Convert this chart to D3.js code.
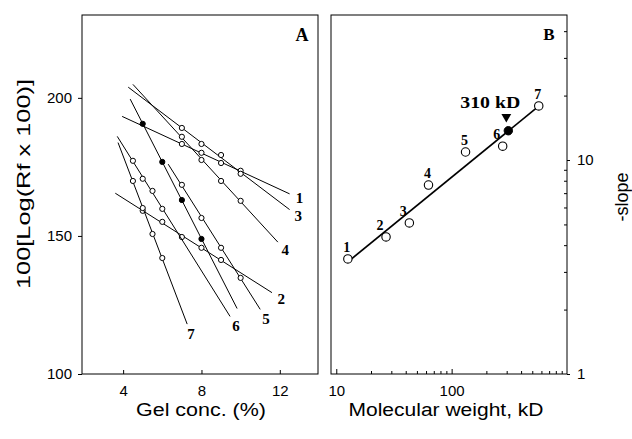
<!DOCTYPE html>
<html>
<head>
<meta charset="utf-8">
<script src="https://cdnjs.cloudflare.com/ajax/libs/d3/7.8.5/d3.min.js"></script>
<style>
    body { margin: 0; background: #fff; }
    text { font-family: "Liberation Sans", Arial, sans-serif; fill: #000; }
    .num { font-family: "Liberation Serif", "Times New Roman", serif; font-weight: bold; }
    .frame { fill: none; stroke: #000; stroke-width: 1; }
    .fit { fill: none; stroke: #000; }
</style>
</head>
<body>
<div id="chart"></div>
<script>
// panel A: one row per protein, gel concentration (%) and 100*log(Rf x 100)
var lineNames = ["1", "2", "3", "4", "5", "6", "7", ""];
var gelConc = [
    [7, 8, 9, 10],
    [5, 6, 7, 8, 9],
    [7, 8, 9, 10],
    [7, 8, 9, 10],
    [7, 8, 9, 10],
    [4.5, 5, 5.5, 6],
    [4.5, 5, 5.5, 6],
    [5, 6, 7, 8]
];
var logRf = [
    [183.3, 180.1, 176.4, 173.6],
    [159.1, 155.1, 149.6, 145.7, 141.3],
    [189.1, 183.3, 179.3, 172.5],
    [185.9, 177.5, 169.9, 162.7],
    [168.5, 156.5, 145.7, 134.8],
    [177.2, 170.7, 166.3, 159.8],
    [169.9, 160.1, 150.7, 142.0],
    [190.6, 176.8, 163.0, 148.9]
];
// gel range that each fitted line covers
var fitStart = [3.95, 3.6, 4.26, 4.5, 6.3, 3.7, 3.74, 4.36];
var fitEnd = [12.5, 11.6, 12.5, 11.9, 11.0, 9.46, 7.27, 9.82];
var isUnknown = [false, false, false, false, false, false, false, true];

// panel B: molecular weight (kD) against -slope
var mwNames = ["1", "2", "3", "4", "5", "6", "7"];
var molWeight = [12.6, 27, 43, 63, 132, 277, 569];
var negSlope = [3.45, 4.37, 5.08, 7.64, 10.9, 11.6, 17.9];
var unknownWeight = 310;
var unknownSlope = 13.7;
var unknownLabel = "310 kD";

var gelTicks = [4, 8, 12];
var rfTicks = [100, 150, 200];
var mwTicks = [10, 100];
var mwMinor = [20, 30, 40, 50, 60, 70, 80, 90, 200, 300, 400, 500, 600, 700, 800, 900];
var slopeTicks = [1, 10];
var slopeMinor = [2, 3, 4, 5, 6, 7, 8, 9, 20, 30, 40];

function init() {

    var w = 632;
    var h = 439;

    // least squares fit, returns [slope, intercept]
    function fit(xs, ys) {
        var mx = d3.mean(xs), my = d3.mean(ys);
        var sxy = 0, sxx = 0;
        for (var i = 0; i < xs.length; i++) {
            sxy += (xs[i] - mx) * (ys[i] - my);
            sxx += (xs[i] - mx) * (xs[i] - mx);
        }
        var b = sxy / sxx;
        return [b, my - b * mx];
    }

    var svg = d3.select("#chart")
                .append("svg")
                .attr("width", w)
                .attr("height", h);

    // ---------- panel A ----------
    var xA = d3.scaleLinear().domain([1.9, 13.95]).range([82, 318]);
    var yA = d3.scaleLinear().domain([100, 230]).range([374, 15]);

    svg.append("rect").attr("class", "frame")
        .attr("x", 82).attr("y", 15).attr("width", 236).attr("height", 359);

    var axA = svg.append("g")
        .attr("transform", "translate(0,374)")
        .call(d3.axisBottom(xA).tickValues(gelTicks).tickSize(-4).tickPadding(11));
    var ayA = svg.append("g")
        .attr("transform", "translate(82,0)")
        .call(d3.axisLeft(yA).tickValues(rfTicks).tickSize(4).tickPadding(6));

    lineNames.forEach(function(name, i) {
        var f = fit(gelConc[i], logRf[i]);
        var ends = [fitStart[i], fitEnd[i]].map(function(g) { return [g, f[0] * g + f[1]]; });

        svg.append("path")
            .datum(ends)
            .attr("class", "fit")
            .attr("stroke-width", 1)
            .attr("d", d3.line()
                .x(function(d) { return xA(d[0]); })
                .y(function(d) { return yA(d[1]); }));

        svg.selectAll(null)
            .data(gelConc[i].map(function(g, j) { return [g, logRf[i][j]]; }))
            .enter().append("circle")
            .attr("cx", function(d) { return xA(d[0]); })
            .attr("cy", function(d) { return yA(d[1]); })
            .attr("r", 2.6)
            .attr("fill", isUnknown[i] ? "#000" : "#fff")
            .attr("stroke", "#000")
            .attr("stroke-width", 1);

        if (name) {
            // label just past the end of the line, along its direction
            var x1 = xA(ends[1][0]), y1 = yA(ends[1][1]);
            var x0 = xA(ends[0][0]), y0 = yA(ends[0][1]);
            var len = Math.hypot(x1 - x0, y1 - y0);
            svg.append("text")
                .attr("class", "num")
                .attr("text-anchor", "middle")
                .attr("font-size", 15)
                .attr("x", x1 + 11 * (x1 - x0) / len)
                .attr("y", y1 + 11 * (y1 - y0) / len + 5)
                .text(name);
        }
    });

    svg.append("text").attr("class", "num")
        .attr("font-size", 18).attr("text-anchor", "middle")
        .attr("x", 302).attr("y", 41).text("A");

    // ---------- panel B ----------
    var xB = d3.scaleLog().domain([9, 1000]).range([331, 567]);
    var yB = d3.scaleLog().domain([1, 47.6]).range([374, 15]);

    svg.append("rect").attr("class", "frame")
        .attr("x", 331).attr("y", 15).attr("width", 236).attr("height", 359);

    var axB = svg.append("g")
        .attr("transform", "translate(0,374)")
        .call(d3.axisBottom(xB).tickValues(mwTicks).tickFormat(d3.format("d")).tickSize(-5).tickPadding(11));
    svg.append("g")
        .attr("transform", "translate(0,374)")
        .call(d3.axisBottom(xB).tickValues(mwMinor).tickFormat("").tickSize(-3));

    var ayB = svg.append("g")
        .attr("transform", "translate(567,0)")
        .call(d3.axisRight(yB).tickValues(slopeTicks).tickFormat(d3.format("d")).tickSize(3).tickPadding(7));
    svg.append("g")
        .attr("transform", "translate(567,0)")
        .call(d3.axisRight(yB).tickValues(slopeMinor).tickFormat("").tickSize(-3));

    // fit in log-log space through the standards
    var lx = molWeight.map(Math.log10), ly = negSlope.map(Math.log10);
    var fb = fit(lx, ly);
    var fitPts = [molWeight[0], molWeight[molWeight.length - 1]].map(function(m) {
        return [m, Math.pow(10, fb[0] * Math.log10(m) + fb[1])];
    });
    svg.append("path")
        .datum(fitPts)
        .attr("class", "fit")
        .attr("stroke-width", 1.7)
        .attr("d", d3.line()
            .x(function(d) { return xB(d[0]); })
            .y(function(d) { return yB(d[1]); }));

    svg.selectAll(null)
        .data(molWeight)
        .enter().append("circle")
        .attr("cx", function(d) { return xB(d); })
        .attr("cy", function(d, i) { return yB(negSlope[i]); })
        .attr("r", 4.2)
        .attr("fill", "#fff")
        .attr("stroke", "#000")
        .attr("stroke-width", 1.1);

    // numbers sit above their circles; the one touching the fit line moves left of it
    svg.selectAll(null)
        .data(mwNames)
        .enter().append("text")
        .attr("class", "num")
        .attr("font-size", 14)
        .attr("text-anchor", "middle")
        .attr("x", function(d, i) {
            var px = xB(molWeight[i]), py = yB(negSlope[i]) - 12;
            var onLine = Math.abs(yB(Math.pow(10, fb[0] * Math.log10(molWeight[i]) + fb[1])) - py) < 8;
            return px - (onLine ? 6 : 1);
        })
        .attr("y", function(d, i) { return yB(negSlope[i]) - 7; })
        .text(function(d) { return d; });

    var ux = xB(unknownWeight), uy = yB(unknownSlope);
    svg.append("circle")
        .attr("cx", ux).attr("cy", uy).attr("r", 4.2)
        .attr("fill", "#000").attr("stroke", "#000");
    svg.append("path")
        .attr("d", d3.symbol(d3.symbolTriangle, 42)())
        .attr("transform", "translate(" + (ux - 2) + "," + (uy - 14) + ") rotate(180)")
        .attr("fill", "#000");
    svg.append("text").attr("class", "num")
        .attr("font-size", 16).attr("text-anchor", "middle")
        .attr("textLength", 60).attr("lengthAdjust", "spacingAndGlyphs")
        .attr("x", ux - 18).attr("y", uy - 23).text(unknownLabel);

    svg.append("text").attr("class", "num")
        .attr("font-size", 17).attr("text-anchor", "middle")
        .attr("x", 549).attr("y", 40).text("B");

    // axis styling
    svg.selectAll(".domain").remove();
    svg.selectAll(".tick line").attr("stroke", "#000");
    [axA, ayA, axB, ayB].forEach(function(g) {
        g.selectAll("text")
            .attr("font-family", "'Liberation Sans', Arial, sans-serif")
            .attr("font-size", 15)
            .attr("fill", "#000");
    });

    // axis titles
    svg.append("text")
        .attr("font-size", 18).attr("text-anchor", "middle")
        .attr("textLength", 130).attr("lengthAdjust", "spacingAndGlyphs")
        .attr("x", 201).attr("y", 416).text("Gel conc. (%)");
    svg.append("text")
        .attr("font-size", 18).attr("text-anchor", "middle")
        .attr("textLength", 195).attr("lengthAdjust", "spacingAndGlyphs")
        .attr("x", 446).attr("y", 416).text("Molecular weight, kD");
    svg.append("text")
        .attr("font-size", 19).attr("text-anchor", "middle")
        .attr("textLength", 210).attr("lengthAdjust", "spacingAndGlyphs")
        .attr("transform", "translate(30,184) rotate(-90)")
        .text("100[Log(Rf x 100)]");
    svg.append("text")
        .attr("font-size", 18).attr("text-anchor", "middle")
        .attr("transform", "translate(628,197) rotate(-90)")
        .text("-slope");
}

window.onload = init;
</script>
</body>
</html>
